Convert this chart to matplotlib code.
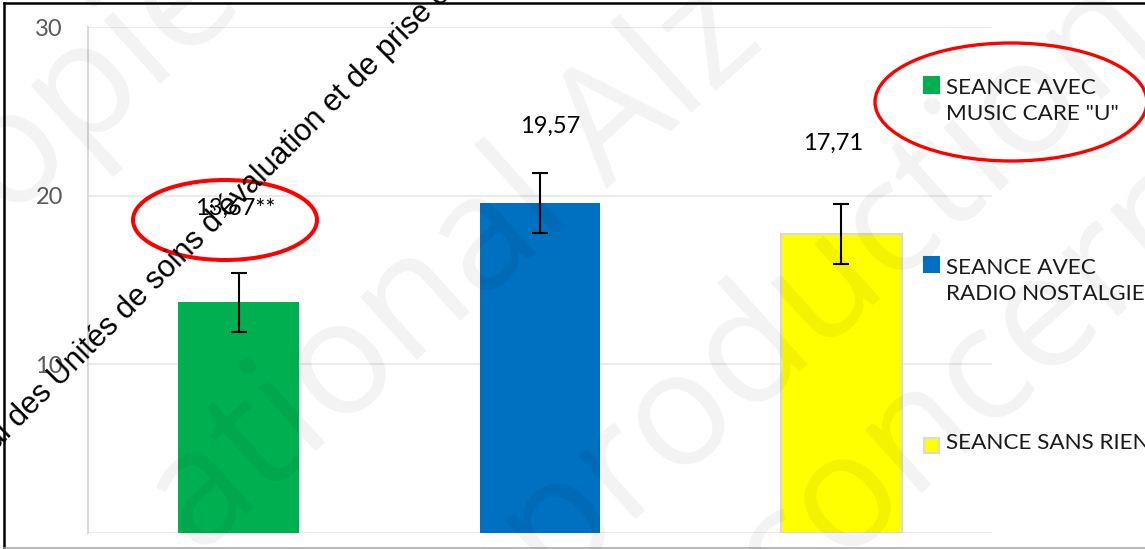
import matplotlib
matplotlib.use("Agg")
import matplotlib.pyplot as plt
from matplotlib.patches import Ellipse, Rectangle
from matplotlib.lines import Line2D

# values
categories = ['SEANCE AVEC\nMUSIC CARE "U"', 'SEANCE AVEC\nRADIO NOSTALGIE', 'SEANCE SANS RIEN']
means = [13.67, 19.57, 17.71]
errors = [1.74, 1.77, 1.77]
value_labels = ['13,67**', '19,57', '17,71']
bar_colors = ['#00B050', '#0070C0', '#FFFF00']
bar_edges = ['none', 'none', '#D9D9D9']
y_ticks = [0, 10, 20, 30]
y_tick_labels = ['', '10', '20', '30']

overlay_text = "al des Unités de soins d\u2019évaluation et de prise en charge"
watermarks = ["Copie", "ational Alz", "reproduction", "concerne"]

# layout (pixels of the 1145x549 output)
W, H = 1145, 549
label_dx = [-0.01, 0.035, -0.027]      # manual shift of data labels (category units)
label_gap = [3.44, 2.37, 3.22]         # gap above the error bar (data units)
legend_y = [101, 281, 443]             # centre of each legend block
legend_sq = [85, 264, 445]             # centre of each legend square
wm_pos = [(60, 110), (455, 270), (770, 330), (1010, 350)]

FONT = 'Lato'


def fx(x):
    return x / W


def fy(y):
    return 1 - y / H


fig = plt.figure(figsize=(W / 100, H / 100), dpi=100)
fig.patch.set_facecolor('white')

ax = fig.add_axes([fx(88), fy(533), 904 / W, 506 / H])
x = list(range(len(means)))
ax.bar(x, means, width=0.40, color=bar_colors, edgecolor=bar_edges, linewidth=1.5, zorder=2)
ax.errorbar(x, means, yerr=errors, fmt='none', ecolor='black', elinewidth=1.5,
            capsize=5.75, capthick=1.5, zorder=3)

for i, lab in enumerate(value_labels):
    ax.text(x[i] + label_dx[i], means[i] + errors[i] + label_gap[i], lab,
            ha='center', va='baseline', fontsize=17, family=FONT, color='black', zorder=4)

ax.set_xlim(-0.5, 2.5)
ax.set_ylim(0, 30)
ax.set_xticks([])
ax.set_yticks(y_ticks)
ax.set_yticklabels(y_tick_labels, fontsize=17, family=FONT, color='#595959')
ax.tick_params(axis='y', length=0, pad=18)
ax.yaxis.grid(True, color='#EBEBEB', linewidth=1.5, zorder=0)
ax.set_axisbelow(True)
for s in ['top', 'right', 'bottom']:
    ax.spines[s].set_visible(False)
ax.spines['left'].set_color('#D9D9D9')
ax.spines['left'].set_linewidth(1.5)

# legend drawn by hand to match the spacing of the original
for i, lab in enumerate(categories):
    sq = Rectangle((fx(924), fy(legend_sq[i] + 7.5)), 15 / W, 15 / H, transform=fig.transFigure,
                   facecolor=bar_colors[i], edgecolor=bar_edges[i] if bar_edges[i] != 'none' else bar_colors[i],
                   linewidth=1.5)
    fig.add_artist(sq)
    fig.text(fx(946), fy(legend_y[i]), lab, ha='left', va='center', fontsize=16.2,
             family=FONT, color='#1a1a1a', linespacing=1.37)

# watermark
for s, (px, py) in zip(watermarks, wm_pos):
    fig.text(fx(px), fy(py), s, rotation=42, rotation_mode='anchor', ha='center', va='center',
             fontsize=115, family='Open Sans', color=(0, 0, 0, 0.05), zorder=5)

# black diagonal overlay text
fig.text(fx(-4), fy(451), overlay_text, rotation=45, rotation_mode='anchor', ha='left',
         va='baseline', fontsize=22, family='Liberation Sans', color='black', zorder=7)

# red ellipses
fig.add_artist(Ellipse((fx(225), fy(220)), 184 / W, 80 / H, transform=fig.transFigure,
                       fill=False, edgecolor='#FF0000', linewidth=2.9, zorder=6))
fig.add_artist(Ellipse((fx(1011), fy(102)), 272 / W, 118 / H, transform=fig.transFigure,
                       fill=False, edgecolor='#FF0000', linewidth=2.4, zorder=6))

# frame of the pasted picture
fig.add_artist(Line2D([fx(4), fx(4)], [fy(3), fy(549)], transform=fig.transFigure, color='black', lw=1.8))
fig.add_artist(Line2D([fx(4), 1], [fy(3), fy(3)], transform=fig.transFigure, color='black', lw=1.8))
fig.add_artist(Line2D([fx(4), 1], [fy(547.5), fy(547.5)], transform=fig.transFigure, color='#A6A6A6', lw=1.1))

fig.savefig('out.png', dpi=100)
